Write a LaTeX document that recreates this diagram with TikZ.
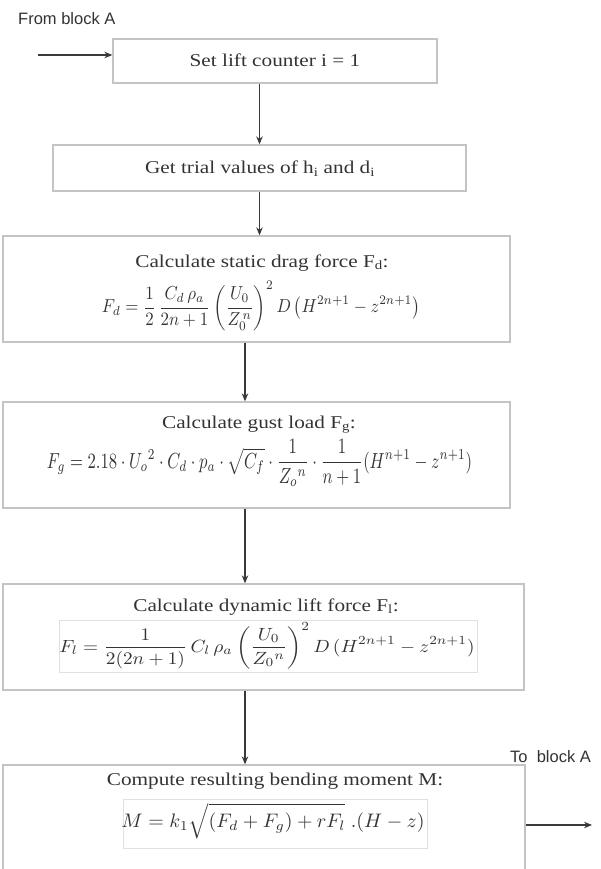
\documentclass[tikz,border=0pt]{standalone}
\usepackage{graphicx}
\usepackage{fontspec}
\setmainfont[FakeStretch=1.18]{Liberation Serif}
\newfontfamily\labelfont{Liberation Sans}
\usetikzlibrary{arrows.meta}
\definecolor{boxline}{HTML}{C4C4C4}
\definecolor{innerline}{HTML}{E0E0E0}
\definecolor{inkc}{HTML}{333333}
\definecolor{arrowc}{HTML}{3A3A3A}
\begin{document}
\begin{tikzpicture}[x=1pt,y=-1pt,
  box/.style={draw=boxline,line width=1.3pt,inner sep=0pt},
  innerbox/.style={draw=innerline,line width=0.9pt,inner sep=0pt},
  arr/.style={draw=arrowc,line width=1.2pt,-{Stealth[length=8pt,width=6.5pt]}},
  ttl/.style={text=inkc,font=\fontsize{18}{21}\selectfont,inner sep=0pt,anchor=base},
  eq/.style={text=inkc,inner sep=0pt},
  lbl/.style={text=inkc,font=\labelfont\fontsize{16.5}{19}\selectfont,inner sep=0pt,anchor=base west}]
\useasboundingbox (0,0) rectangle (600,869);
\clip (0,0) rectangle (600,869);
\fill[white] (0,0) rectangle (600,869);

% boxes
\node[box,minimum width=324pt,minimum height=44pt] (b1) at (275,61) {};
\node[box,minimum width=413pt,minimum height=46pt] (b2) at (259.5,168) {};
\node[box,minimum width=507pt,minimum height=106pt] (b3) at (256.5,289) {};
\node[box,minimum width=507pt,minimum height=106pt] (b4) at (256.5,455) {};
\node[box,minimum width=521pt,minimum height=106pt] (b5) at (263.5,637) {};
\node[box,minimum width=522pt,minimum height=130pt] (b6) at (264,830) {};

% inner formula frames
\node[innerbox,minimum width=418pt,minimum height=52pt] (i5) at (268,646) {};
\node[innerbox,minimum width=304pt,minimum height=49pt] (i6) at (275,823.5) {};

% titles
\node[ttl] (t1) at (275,67) {Set lift counter i = 1};
\node[ttl] (t2) at (260,174) {Get trial values of h\textsubscript{i} and d\textsubscript{i}};
\node[ttl] (t3) at (262,267) {Calculate static drag force F\textsubscript{d}:};
\node[ttl] (t4) at (259,428) {Calculate gust load F\textsubscript{g}:};
\node[ttl] (t5) at (266,611) {Calculate dynamic lift force F\textsubscript{l}:};
\node[ttl] (t6) at (275,785) {Compute resulting bending moment M:};

% formulas
\node[eq] (e3) at (261,306) {\resizebox*{318pt}{49pt}{$\displaystyle F_d=\frac{1}{2}\,\frac{C_d\,\rho_a}{2n+1}\left(\frac{U_0}{Z_0^{\,n}}\right)^{2} D\left(H^{2n+1}-z^{2n+1}\right)$}};
\node[eq] (e4) at (259.5,463) {\resizebox*{425pt}{47pt}{$\displaystyle F_g=2.18\cdot U_o{}^{2}\cdot C_d\cdot p_a\cdot\sqrt{C_f}\cdot\frac{1}{Z_o{}^{n}}\cdot\frac{1}{n+1}(H^{n+1}-z^{n+1})$}};
\node[eq] (e5) at (267,646) {\resizebox*{415pt}{46pt}{$\displaystyle F_l=\frac{1}{2(2n+1)}\,C_l\,\rho_a\left(\frac{U_0}{Z_0{}^{n}}\right)^{2} D\,(H^{2n+1}-z^{2n+1})$}};
\node[eq] (e6) at (273,821) {\resizebox*{303pt}{36pt}{$\displaystyle M=k_1\sqrt{\left(F_d+F_g\right)+rF_l}\;.(H-z)$}};

% connectors
\coordinate (cx) at (245,0);
\coordinate (inp) at (38,55);
\coordinate (outp) at (592,825);
\draw[arr] (inp) -- (inp -| b1.west);
\draw[arr] (b2.north |- b1.south) -- (b2.north);
\draw[arr] (b2.south) -- (b2.south |- b3.north);
\draw[arr] (cx |- b3.south) -- (cx |- b4.north);
\draw[arr] (cx |- b4.south) -- (cx |- b5.north);
\draw[arr] (cx |- b5.south) -- (cx |- b6.north);
\draw[arr] (outp -| b6.east) -- (outp);

% labels
\node[lbl] (l1) at (18,25) {From block A};
\node[lbl] (l2) at (510,762) {To~ block A};
\end{tikzpicture}
\end{document}
